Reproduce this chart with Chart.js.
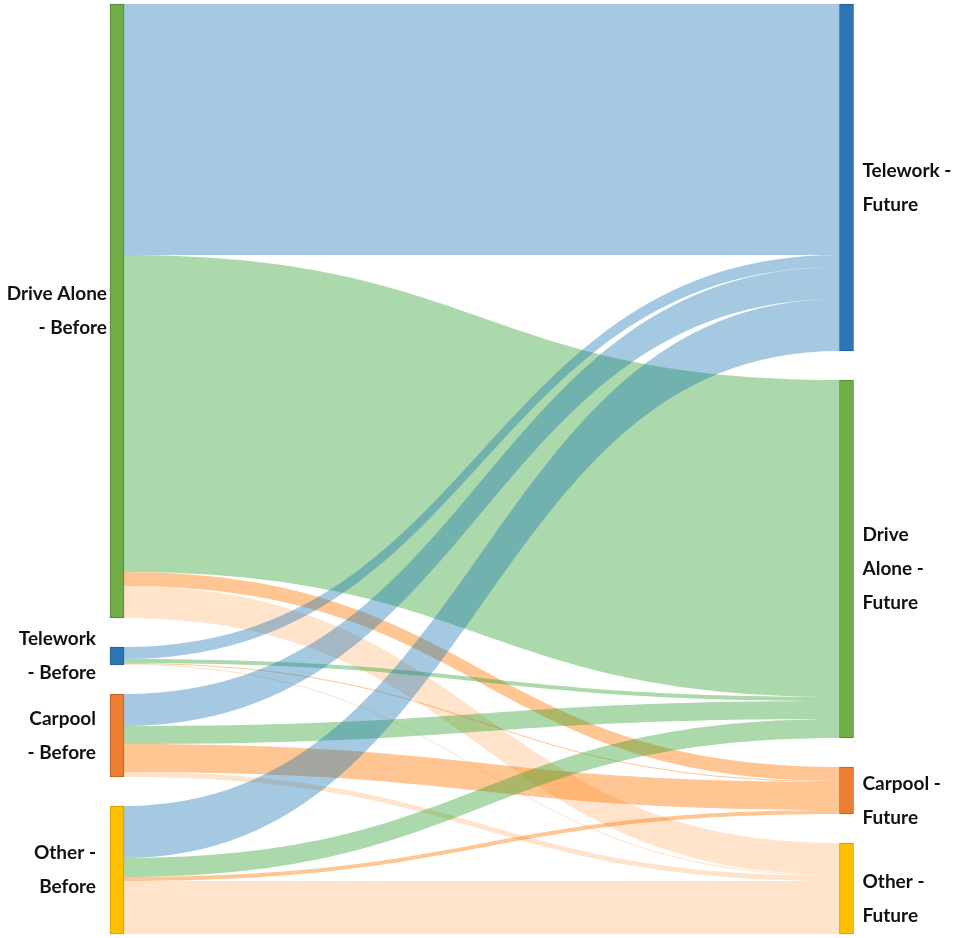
<!DOCTYPE html>
<html>
<head>
<meta charset="utf-8">
<script src="https://cdn.jsdelivr.net/npm/chart.js@4.4.1/dist/chart.umd.min.js"></script>
<style>
  html, body { margin: 0; padding: 0; background: #fff; }
  #wrap { width: 953px; height: 938px; }
</style>
</head>
<body>
<div id="wrap"><canvas id="sankey"></canvas></div>
<script>
// modes, in the same order on both sides
const modes = ['Telework', 'Drive Alone', 'Carpool', 'Other'];
const leftOrder = ['Drive Alone', 'Telework', 'Carpool', 'Other'];
const rightOrder = ['Telework', 'Drive Alone', 'Carpool', 'Other'];

// flows from each "Before" mode, to Telework / Drive Alone / Carpool / Other "Future"
const fromDriveAlone = [251, 317, 14, 32];
const fromTelework = [12, 4, 1, 1];
const fromCarpool = [32, 18, 28, 5];
const fromOther = [52, 19, 4, 53];

const leftLabels = [['Drive Alone', '- Before'], ['Telework', '- Before'], ['Carpool', '- Before'], ['Other -', 'Before']];
const rightLabels = [['Telework -', 'Future'], ['Drive', 'Alone -', 'Future'], ['Carpool -', 'Future'], ['Other -', 'Future']];

const nodeColors = { 'Telework': '#2E75B6', 'Drive Alone': '#70AD47', 'Carpool': '#ED7D31', 'Other': '#FFC000' };
const nodeBorders = { 'Telework': '#245d91', 'Drive Alone': '#548235', 'Carpool': '#b8622a', 'Other': '#c89a00' };
const linkColors = {
    'Telework': 'rgba(31, 119, 180, 0.4)',
    'Drive Alone': 'rgba(44, 160, 44, 0.4)',
    'Carpool': 'rgba(255, 127, 14, 0.45)',
    'Other': 'rgba(255, 127, 14, 0.22)'
};
// gap between left label and its node, per label
const leftLabelGap = [3, 14, 14, 14];

const flows = [fromDriveAlone, fromTelework, fromCarpool, fromOther]; // rows follow leftOrder, cols follow rightOrder
const yMax = 930;

// node stacking
const leftSizes = flows.map(r => r.reduce((a, b) => a + b, 0));
const rightSizes = rightOrder.map((_, j) => flows.reduce((a, r) => a + r[j], 0));
const total = leftSizes.reduce((a, b) => a + b, 0);
const gap = (yMax - total) / 3;

function stack(sizes) {
    let pos = 0;
    return sizes.map(s => { const r = [pos, pos + s]; pos += s + gap; return r; });
}
const leftNodes = stack(leftSizes);
const rightNodes = stack(rightSizes);

// one bar dataset per mode: its "Before" node at x=0, its "Future" node at x=1
const datasets = modes.map(m => ({
    label: m,
    data: [
        { x: 0, y: leftNodes[leftOrder.indexOf(m)] },
        { x: 1, y: rightNodes[rightOrder.indexOf(m)] }
    ],
    backgroundColor: nodeColors[m],
    borderColor: nodeBorders[m],
    borderWidth: 1,
    borderSkipped: false,
    barThickness: 14,
    grouped: false,
    clip: false
}));

const sankeyLinks = {
    id: 'sankeyLinks',
    beforeDatasetsDraw(chart) {
        const { ctx, scales: { x, y } } = chart;
        const half = chart.getDatasetMeta(0).data[0].width / 2;
        const x0 = x.getPixelForValue(0) + half;
        const x1 = x.getPixelForValue(1) - half;
        const xm = (x0 + x1) / 2;
        const outPos = leftNodes.map(n => n[0]);
        const inPos = rightNodes.map(n => n[0]);
        const links = [];
        flows.forEach((row, i) => {
            row.forEach((v, j) => {
                links.push({ j, a0: outPos[i], a1: outPos[i] + v, b0: inPos[j], b1: inPos[j] + v });
                outPos[i] += v;
                inPos[j] += v;
            });
        });
        ctx.save();
        links.forEach(l => {
            const ya0 = y.getPixelForValue(l.a0), ya1 = y.getPixelForValue(l.a1);
            const yb0 = y.getPixelForValue(l.b0), yb1 = y.getPixelForValue(l.b1);
            ctx.beginPath();
            ctx.moveTo(x0, ya0);
            ctx.bezierCurveTo(xm, ya0, xm, yb0, x1, yb0);
            ctx.lineTo(x1, yb1);
            ctx.bezierCurveTo(xm, yb1, xm, ya1, x0, ya1);
            ctx.closePath();
            ctx.fillStyle = linkColors[rightOrder[l.j]];
            ctx.fill();
        });
        ctx.restore();
    },
    afterDraw(chart) {
        const { ctx, scales: { x, y } } = chart;
        const half = chart.getDatasetMeta(0).data[0].width / 2;
        const lh = 34;
        ctx.save();
        ctx.font = 'bold 19px Lato';
        ctx.fillStyle = '#111';
        ctx.textBaseline = 'middle';
        ctx.textAlign = 'right';
        leftLabels.forEach((lines, i) => {
            const c = y.getPixelForValue((leftNodes[i][0] + leftNodes[i][1]) / 2);
            lines.forEach((t, k) => ctx.fillText(t, x.getPixelForValue(0) - half - leftLabelGap[i], c + (k - (lines.length - 1) / 2) * lh));
        });
        ctx.textAlign = 'left';
        rightLabels.forEach((lines, i) => {
            const c = y.getPixelForValue((rightNodes[i][0] + rightNodes[i][1]) / 2) + 10;
            lines.forEach((t, k) => ctx.fillText(t, x.getPixelForValue(1) + half + 9, c + (k - (lines.length - 1) / 2) * lh));
        });
        ctx.restore();
    }
};

new Chart(document.getElementById('sankey'), {
    type: 'bar',
    data: { datasets: datasets },
    options: {
        responsive: true,
        maintainAspectRatio: false,
        animation: false,
        layout: { padding: { left: 117, right: 106.5, top: 4, bottom: 4 } },
        scales: {
            x: { type: 'linear', min: 0, max: 1, offset: false, display: false },
            y: { min: 0, max: yMax, reverse: true, display: false }
        },
        plugins: { legend: { display: false }, tooltip: { enabled: false } }
    },
    plugins: [sankeyLinks]
});
</script>
</body>
</html>
